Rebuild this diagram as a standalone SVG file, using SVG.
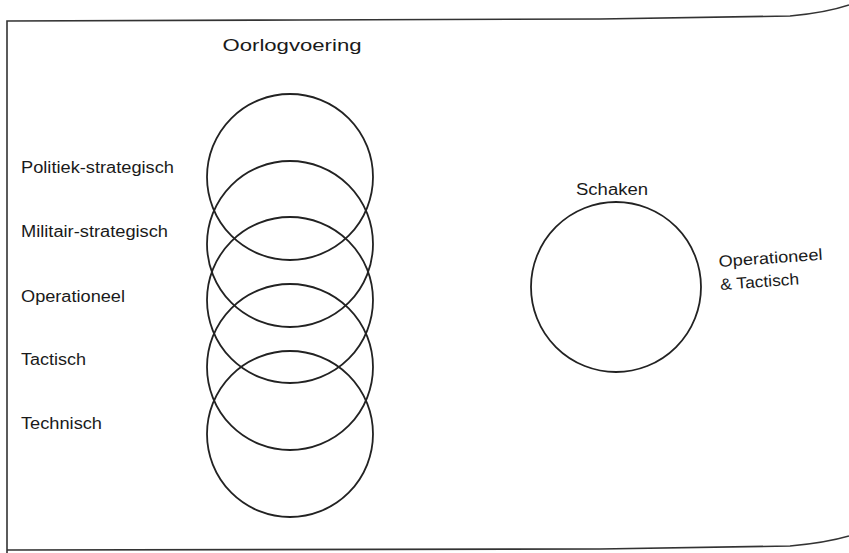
<svg xmlns="http://www.w3.org/2000/svg" width="849" height="553" viewBox="0 0 849 553">
<style>
.c{fill:none;stroke:#222;stroke-width:1.8}
.b{fill:none;stroke:#333;stroke-width:1.6}
text{font-family:"Liberation Sans",Arial,sans-serif;font-size:16px;fill:#1a1a1a}
</style>
<rect width="849" height="553" fill="#fff"/>
<g id="frame">
<path class="b" d="M7,553 L7,21 L300,20 L600,19 L790,16 Q825,13 849,5"/>
<path class="b" d="M7,550 L600,549 L790,546 Q825,543 849,536"/>
</g>
<g id="connectors"></g>
<g id="oorlogvoering">
<text x="292" y="51" text-anchor="middle" textLength="139" lengthAdjust="spacingAndGlyphs">Oorlogvoering</text>
</g>
<g id="c-politiek"><circle class="c" cx="290" cy="177" r="83"/><text x="21" y="173" textLength="153" lengthAdjust="spacingAndGlyphs">Politiek-strategisch</text></g>
<g id="c-militair"><circle class="c" cx="290" cy="244" r="83"/><text x="21" y="237" textLength="147" lengthAdjust="spacingAndGlyphs">Militair-strategisch</text></g>
<g id="c-operationeel"><circle class="c" cx="290" cy="300" r="83"/><text x="21" y="302" textLength="104" lengthAdjust="spacingAndGlyphs">Operationeel</text></g>
<g id="c-tactisch"><circle class="c" cx="290" cy="367" r="83"/><text x="21" y="365" textLength="65" lengthAdjust="spacingAndGlyphs">Tactisch</text></g>
<g id="c-technisch"><circle class="c" cx="290" cy="434" r="83"/><text x="21" y="429" textLength="81" lengthAdjust="spacingAndGlyphs">Technisch</text></g>
<g id="schaken">
<text x="612" y="195" text-anchor="middle" textLength="72" lengthAdjust="spacingAndGlyphs">Schaken</text>
<circle class="c" cx="616" cy="287" r="85"/>
<g transform="rotate(-4 719 267)">
<text x="719" y="267" textLength="104" lengthAdjust="spacingAndGlyphs">Operationeel</text>
<text x="719" y="290" textLength="79" lengthAdjust="spacingAndGlyphs">&amp; Tactisch</text>
</g>
</g>
</svg>
